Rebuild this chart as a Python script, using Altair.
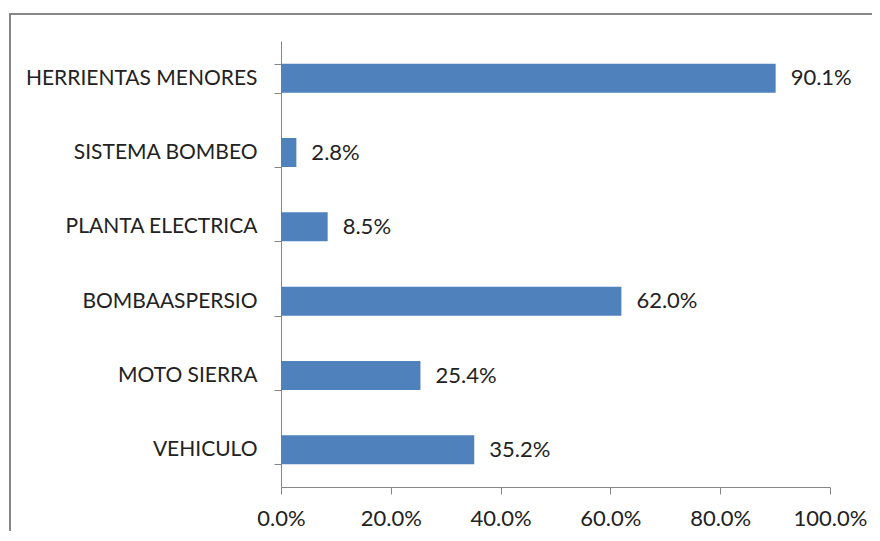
import altair as alt
import pandas as pd

categories = ["HERRIENTAS MENORES", "SISTEMA BOMBEO", "PLANTA ELECTRICA",
              "BOMBAASPERSIO", "MOTO SIERRA", "VEHICULO"]
values = [0.901, 0.028, 0.085, 0.620, 0.254, 0.352]
x_ticks = [0.0, 0.2, 0.4, 0.6, 0.8, 1.0]

df = pd.DataFrame({"cat": categories, "val": values})

FONT = "Lato"
GRAY = "#868686"
TXT = "#222222"

y_enc = alt.Y("cat:N", sort=categories, title=None,
              scale=alt.Scale(paddingInner=0.61, paddingOuter=0.305),
              axis=alt.Axis(tickBand="extent", domainColor=GRAY, tickColor=GRAY,
                            tickSize=7, labelFontSize=21, labelColor=TXT,
                            labelFont=FONT, labelPadding=17, labelLimit=300))
x_enc = alt.X("val:Q", title=None,
              scale=alt.Scale(domain=[0, 1], nice=False),
              axis=alt.Axis(values=x_ticks, format=".1%", grid=False,
                            domainColor=GRAY, tickColor=GRAY, tickSize=7,
                            labelFontSize=22, labelColor=TXT, labelFont=FONT,
                            labelPadding=14, labelFlush=False))

bars = alt.Chart(df).mark_bar(color="#4F81BD").encode(x=x_enc, y=y_enc)
labels = alt.Chart(df).mark_text(align="left", baseline="middle", dx=15,
                                 fontSize=22, font=FONT, color=TXT).encode(
    x="val:Q", y=alt.Y("cat:N", sort=categories), text=alt.Text("val:Q", format=".1%"))

frame = alt.Chart(pd.DataFrame({"a": [0]})).mark_rect(
    filled=False, stroke=GRAY, strokeWidth=2).encode(
    x=alt.value(-271), x2=alt.value(640), y=alt.value(-27), y2=alt.value(540))

chart = alt.layer(frame, bars, labels).properties(
    width=549, height=446,
    padding={"left": 273, "top": 33, "right": 42, "bottom": 44},
    autosize=alt.AutoSizeParams(type="none"),
).configure_view(stroke=None)

chart.save("out.html", embed_options={"renderer": "svg", "actions": False})
